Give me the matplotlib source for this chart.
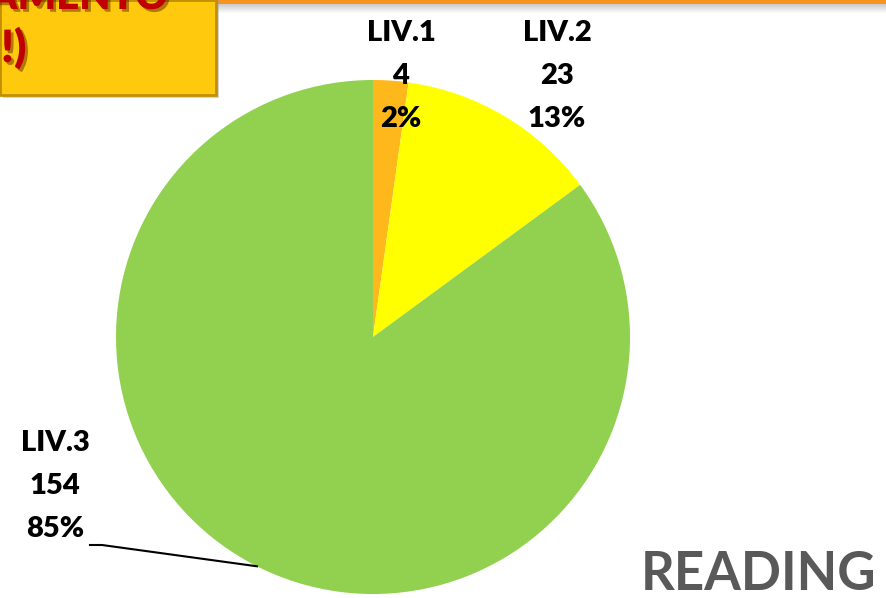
"""Pie chart of levels (LIV.1 / LIV.2 / LIV.3)"""
import numpy as np
import matplotlib
matplotlib.use("Agg")
import matplotlib.pyplot as plt
from matplotlib.patches import Rectangle
import matplotlib.patheffects as pe

LEVELS = ["LIV.1", "LIV.2", "LIV.3"]
COUNTS = [4, 23, 154]
COLORS = ["#FFB81C", "#FFFF00", "#92D050"]

W, H = 886, 598
plt.rcParams['font.family'] = ['Lato', 'DejaVu Sans']

fig = plt.figure(figsize=(W / 100, H / 100), dpi=100)
ax = fig.add_axes([0, 0, 1, 1])

# pie (center/radius in pixel units, y measured from bottom)
cx, cy, r = 373, H - 337, 257
wedges, _ = ax.pie(COUNTS, colors=COLORS, startangle=90, counterclock=False,
                   center=(cx, cy), radius=r, frame=True,
                   wedgeprops=dict(edgecolor='none'))
ax.set_xlim(0, W)
ax.set_ylim(0, H)
ax.set_aspect('equal')
ax.axis('off')

total = sum(COUNTS)
label_pos = [(401, H - 76), (557, H - 76), (55, H - 486)]
for name, n, w, (tx, ty) in zip(LEVELS, COUNTS, wedges, label_pos):
    pct = 100 * n / total
    ax.text(tx, ty, f"{name}\n{n}\n{pct:.0f}%", ha='center', va='center',
            fontsize=21, fontweight='heavy', linespacing=1.8, color='black')

# leader line for LIV.3
w3 = wedges[2]
mid = np.deg2rad((w3.theta1 + w3.theta2) / 2)
ex, ey = cx + r * np.cos(mid), cy + r * np.sin(mid)
ax.plot([90, 102, ex], [H - 545, H - 545, ey], color='black', lw=1.5)

# top orange rule with shadow
for i in range(9):
    ax.add_patch(Rectangle((217, H - 4 - i - 1), W - 217, 1,
                           color='grey', alpha=0.4 * (1 - i / 9), lw=0))
ax.add_patch(Rectangle((217, H - 4), W - 217, 4, color='#F7941D', lw=0))

# yellow note box, top-left (its text runs off the page, as in the slide)
ax.add_patch(Rectangle((3, H - 98), 216, 98, color='#999999', alpha=0.4, lw=0))
ax.add_patch(Rectangle((0, H - 95), 216, 95, facecolor='#FFC90E',
                       edgecolor='#C09000', lw=2))
shadow = [pe.withSimplePatchShadow(offset=(2, -2), alpha=0.4)]
ax.text(168, H - 9, "RAMENTO", ha='right', va='baseline', fontsize=29,
        fontweight='heavy', color='#C00000', path_effects=shadow)
ax.text(1, H - 62, "!)", ha='left', va='baseline', fontsize=32,
        fontweight='heavy', color='#C00000', path_effects=shadow)

ax.text(641, H - 590, "READING", ha='left', va='baseline', fontsize=38,
        fontweight='bold', color='#595959')

fig.savefig("out.png", dpi=100)
